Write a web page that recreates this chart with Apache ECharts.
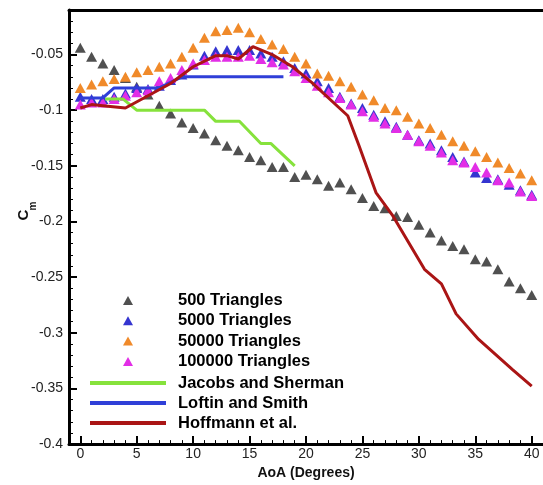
<!DOCTYPE html>
<html>
<head>
<meta charset="utf-8">
<script src="https://cdn.jsdelivr.net/npm/echarts@6/dist/echarts.min.js"></script>
<style>
html,body{margin:0;padding:0;background:#fff;}
#chart{width:543px;height:485px;}
</style>
</head>
<body>
<div id="chart"></div>
<script>
// ---- data ----
var aoa = [0,1,2,3,4,5,6,7,8,9,10,11,12,13,14,15,16,17,18,19,20,21,22,23,24,25,26,27,28,29,30,31,32,33,34,35,36,37,38,39,40];
var tri500 = [-0.044,-0.052,-0.058,-0.064,-0.071,-0.079,-0.086,-0.096,-0.103,-0.111,
  -0.116,-0.121,-0.127,-0.132,-0.136,-0.142,-0.145,-0.151,-0.151,-0.160,
  -0.158,-0.162,-0.168,-0.165,-0.171,-0.179,-0.186,-0.188,-0.195,-0.196,
  -0.203,-0.210,-0.217,-0.222,-0.225,-0.234,-0.236,-0.243,-0.254,-0.260,-0.266];
var tri5000 = [-0.088,-0.090,-0.090,-0.088,-0.085,-0.080,-0.081,-0.078,-0.073,-0.068,
  -0.059,-0.051,-0.047,-0.046,-0.046,-0.046,-0.049,-0.052,-0.056,-0.062,
  -0.067,-0.074,-0.080,-0.088,-0.094,-0.098,-0.104,-0.110,-0.115,-0.122,
  -0.127,-0.130,-0.136,-0.142,-0.146,-0.156,-0.161,-0.162,-0.167,-0.172,-0.176];
var tri50000 = [-0.080,-0.077,-0.074,-0.072,-0.070,-0.066,-0.064,-0.061,-0.058,-0.052,
  -0.044,-0.035,-0.029,-0.028,-0.026,-0.030,-0.036,-0.041,-0.045,-0.052,
  -0.058,-0.067,-0.069,-0.074,-0.079,-0.086,-0.091,-0.098,-0.100,-0.106,
  -0.112,-0.116,-0.122,-0.128,-0.132,-0.137,-0.142,-0.147,-0.152,-0.157,-0.163];
var tri100000 = [-0.095,-0.093,-0.093,-0.090,-0.087,-0.084,-0.082,-0.074,-0.071,-0.064,
  -0.058,-0.055,-0.052,-0.052,-0.052,-0.051,-0.054,-0.057,-0.059,-0.065,
  -0.071,-0.078,-0.084,-0.089,-0.095,-0.101,-0.106,-0.112,-0.116,-0.122,
  -0.128,-0.132,-0.138,-0.145,-0.147,-0.151,-0.156,-0.163,-0.165,-0.173,-0.177];
var jacobsX = [2.2,3.8,5,11,12,14.1,16,16.9,19];
var jacobsY = [-0.090,-0.090,-0.100,-0.100,-0.110,-0.110,-0.130,-0.130,-0.150];
var loftinX = [0,2,3,7,9,18];
var loftinY = [-0.089,-0.089,-0.080,-0.080,-0.070,-0.070];
var hoffX = [0,1,2,4,8,10,12,13,14,15.3,17,18.8,20.5,23.7,24.7,26.2,27.7,30.5,32,33.3,35.3,38.3,40];
var hoffY = [-0.098,-0.095,-0.096,-0.098,-0.076,-0.061,-0.051,-0.051,-0.054,-0.043,-0.050,-0.061,-0.075,-0.105,-0.132,-0.174,-0.195,-0.243,-0.256,-0.283,-0.306,-0.333,-0.348];
var seriesNames = ['500 Triangles','5000 Triangles','50000 Triangles','100000 Triangles','Jacobs and Sherman','Loftin and Smith','Hoffmann et al.'];
var xMajor = [0,5,10,15,20,25,30,35,40];
var yMajor = [-0.4,-0.35,-0.3,-0.25,-0.2,-0.15,-0.1,-0.05];
var xTitle = 'AoA (Degrees)';

// minor ticks
var xMinor = [];
for (var i = -1; i <= 41; i++) { if (i % 5 !== 0) xMinor.push(i); }
var yMinor = [];
for (var j = -40; j <= -1; j++) { if (j % 5 !== 0) yMinor.push(j / 100); }

function pairs(xs, ys) { return xs.map(function (x, k) { return [x, ys[k]]; }); }

var FONT = 'Liberation Sans, Arial, sans-serif';
var chart = echarts.init(document.getElementById('chart'), null, {renderer: 'canvas'});

function tri(name, data, color) {
  return {
    name: name, type: 'scatter', symbol: 'triangle', symbolSize: [11, 10],
    data: pairs(aoa, data), itemStyle: {color: color, opacity: 1}, z: 2
  };
}
function ln(name, xs, ys, color) {
  return {
    name: name, type: 'line', data: pairs(xs, ys), showSymbol: false, symbol: 'none',
    lineStyle: {color: color, width: 3}, itemStyle: {color: color}, z: 3, animation: false
  };
}

var option = {
  animation: false,
  backgroundColor: '#fff',
  grid: {left: 69, top: 10, width: 475, height: 435, show: false},
  xAxis: [{
    type: 'value', min: -1, max: 41, position: 'bottom',
    axisLine: {show: true, onZero: false, lineStyle: {color: '#000', width: 3}},
    axisTick: {show: true, inside: true, length: 8, lineStyle: {color: '#000', width: 2}, customValues: xMajor},
    axisLabel: {customValues: xMajor, margin: 3, color: '#222', fontSize: 14, fontFamily: FONT},
    splitLine: {show: false},
    name: xTitle, nameLocation: 'middle', nameGap: 15,
    nameTextStyle: {color: '#111', fontSize: 14, fontWeight: 'bold', fontFamily: FONT}
  }, {
    type: 'value', min: -1, max: 41, position: 'bottom',
    axisLine: {show: false, onZero: false},
    axisTick: {show: true, inside: true, length: 4, lineStyle: {color: '#000', width: 1}, customValues: xMinor},
    axisLabel: {show: false}, splitLine: {show: false}
  }, {
    type: 'value', min: -1, max: 41, position: 'top',
    axisLine: {show: true, onZero: false, lineStyle: {color: '#000', width: 3}},
    axisTick: {show: false}, axisLabel: {show: false}, splitLine: {show: false}
  }],
  yAxis: [{
    type: 'value', min: -0.4, max: -0.01, position: 'left',
    axisLine: {show: true, onZero: false, lineStyle: {color: '#000', width: 3}},
    axisTick: {show: true, inside: true, length: 8, lineStyle: {color: '#000', width: 2}, customValues: yMajor},
    axisLabel: {customValues: yMajor, margin: 6, color: '#222', fontSize: 14, fontFamily: FONT},
    splitLine: {show: false}
  }, {
    type: 'value', min: -0.4, max: -0.01, position: 'left',
    axisLine: {show: false, onZero: false},
    axisTick: {show: true, inside: true, length: 4, lineStyle: {color: '#000', width: 1}, customValues: yMinor},
    axisLabel: {show: false}, splitLine: {show: false}
  }],
  legend: [{
    data: seriesNames.slice(0, 4), orient: 'vertical', left: 123, top: 292, padding: 0,
    itemWidth: 10, itemHeight: 9, itemGap: 3.3, icon: 'triangle', selectedMode: false,
    itemStyle: {opacity: 1},
    textStyle: {color: '#000', fontSize: 16.5, fontWeight: 'bold', fontFamily: FONT, lineHeight: 17, padding: [0, 0, 0, 40]}
  }, {
    data: seriesNames.slice(4), orient: 'vertical', left: 90, top: 374.5, padding: 0,
    itemWidth: 76, itemHeight: 4, itemGap: 3, icon: 'rect', selectedMode: false,
    textStyle: {color: '#000', fontSize: 16.5, fontWeight: 'bold', fontFamily: FONT, lineHeight: 17, padding: [0, 0, 0, 7]}
  }],
  graphic: [
    {type: 'text', x: 24, y: 215, rotation: Math.PI / 2,
     style: {text: 'C', fill: '#111', font: 'bold 15px ' + FONT, align: 'center', verticalAlign: 'middle'}},
    {type: 'text', x: 33.5, y: 206, rotation: Math.PI / 2,
     style: {text: 'm', fill: '#111', font: 'bold 10px ' + FONT, align: 'center', verticalAlign: 'middle'}}
  ],
  series: [
    tri(seriesNames[0], tri500, '#505050'),
    tri(seriesNames[1], tri5000, '#3535d0'),
    tri(seriesNames[2], tri50000, '#f08a2a'),
    tri(seriesNames[3], tri100000, '#e22ee6'),
    ln(seriesNames[4], jacobsX, jacobsY, '#86e23c'),
    ln(seriesNames[5], loftinX, loftinY, '#2f3fd8'),
    ln(seriesNames[6], hoffX, hoffY, '#aa1515')
  ]
};
chart.setOption(option);
</script>
</body>
</html>
